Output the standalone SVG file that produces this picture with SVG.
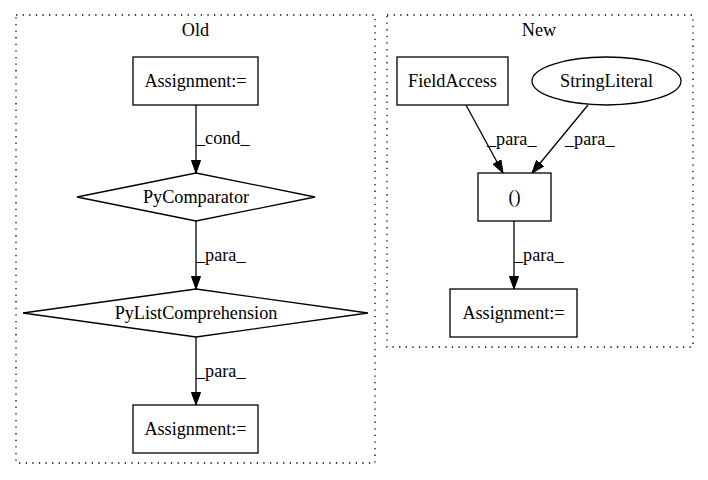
<svg xmlns="http://www.w3.org/2000/svg" width="708" height="480" viewBox="0 0 708 480">
<defs>
<marker id="arr" viewBox="0 0 13 10" refX="13" refY="5" markerWidth="13" markerHeight="10" markerUnits="userSpaceOnUse" orient="auto">
<path d="M0.5,0.5 L13,5 L0.5,9.5 Z" fill="#000" stroke="#000" stroke-width="1"/>
</marker>
</defs>
<style>
text{font-family:"Liberation Serif","Times New Roman",serif;font-size:18.2px;fill:#000}
.c{text-anchor:middle}
.n{fill:#fff;stroke:#000;stroke-width:1.3}
.cl{fill:none;stroke:#000;stroke-width:1.3;stroke-dasharray:1.3,5.3}
.e{fill:none;stroke:#000;stroke-width:1.3;marker-end:url(#arr)}
</style>
<rect width="708" height="480" fill="#fff"/>
<g id="cluster_old">
<rect class="cl" x="16" y="15" width="359" height="448"/>
<text class="c" x="195.5" y="36">Old</text>
</g>
<g id="cluster_new">
<rect class="cl" x="387" y="15" width="306" height="332"/>
<text class="c" x="539" y="36">New</text>
</g>
<g id="connectors">
<line class="e" x1="196" y1="105" x2="196" y2="173"/>
<text x="196" y="144">_cond_</text>
<line class="e" x1="196" y1="221" x2="196" y2="289"/>
<text x="196" y="261">_para_</text>
<line class="e" x1="196" y1="337" x2="196" y2="405"/>
<text x="196" y="377">_para_</text>
<line class="e" x1="466" y1="105" x2="503" y2="173"/>
<text x="487" y="145">_para_</text>
<line class="e" x1="588" y1="105" x2="532" y2="173"/>
<text x="565" y="145">_para_</text>
<line class="e" x1="514" y1="221" x2="514" y2="289"/>
<text x="514" y="261">_para_</text>
</g>
<g id="old_assign1">
<rect class="n" x="133" y="57" width="125" height="48"/>
<text class="c" x="195.5" y="87">Assignment:=</text>
</g>
<g id="old_pycomparator">
<polygon class="n" points="196,173 315,197 196,221 77,197"/>
<text class="c" x="196" y="203">PyComparator</text>
</g>
<g id="old_pylistcomp">
<polygon class="n" points="196,289 368,313 196,337 23,313"/>
<text class="c" x="196" y="319">PyListComprehension</text>
</g>
<g id="old_assign2">
<rect class="n" x="133" y="405" width="125" height="48"/>
<text class="c" x="195.5" y="435">Assignment:=</text>
</g>
<g id="new_fieldaccess">
<rect class="n" x="397" y="57" width="111" height="48"/>
<text class="c" x="452.5" y="87">FieldAccess</text>
</g>
<g id="new_stringliteral">
<ellipse class="n" cx="606.5" cy="81" rx="74.5" ry="24"/>
<text class="c" x="606.5" y="87">StringLiteral</text>
</g>
<g id="new_call">
<rect class="n" x="478" y="173" width="73" height="48"/>
<text class="c" x="514.5" y="203">()</text>
</g>
<g id="new_assign">
<rect class="n" x="450" y="289" width="127" height="48"/>
<text class="c" x="513.5" y="319">Assignment:=</text>
</g>
</svg>
